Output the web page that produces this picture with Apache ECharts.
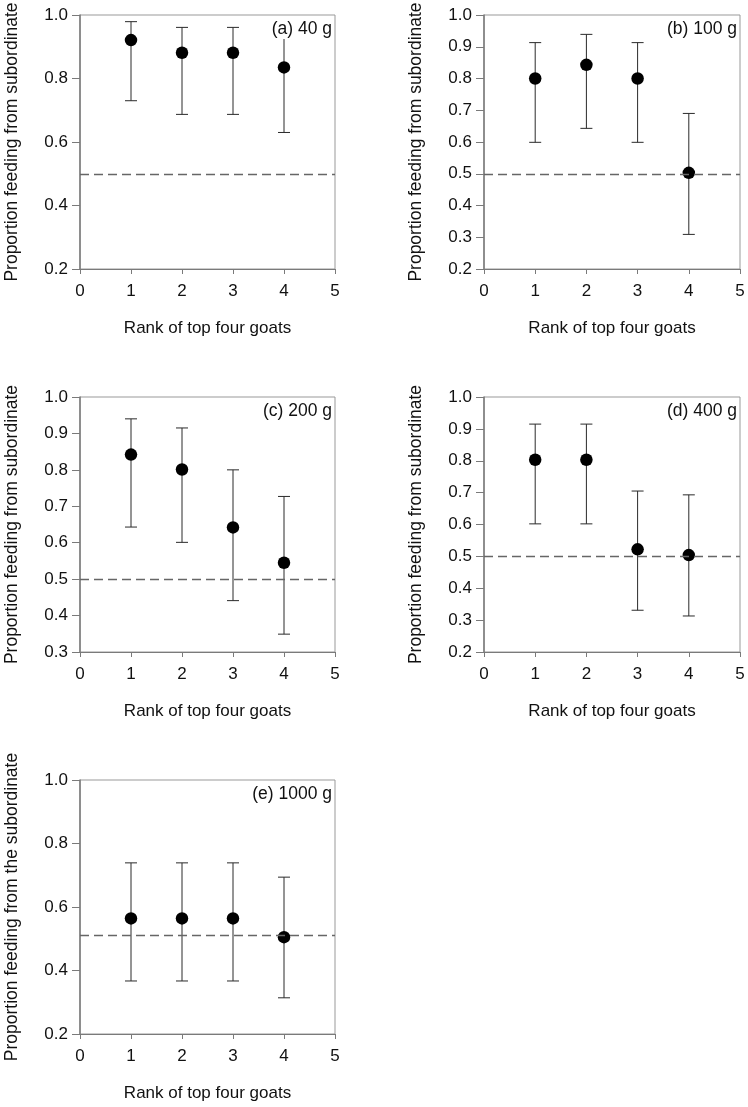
<!DOCTYPE html>
<html><head><meta charset="utf-8">
<script src="https://cdn.jsdelivr.net/npm/echarts@6/dist/echarts.min.js"></script>
<style>html,body{margin:0;padding:0;background:#fff}#c{width:748px;height:1107px}</style>
</head><body><div id="c"></div>
<script>
// ---- data ----
const ranks = [1, 2, 3, 4];
const panelLabels = ['(a) 40 g', '(b) 100 g', '(c) 200 g', '(d) 400 g', '(e) 1000 g'];
const yTitles = ['Proportion feeding from subordinate', 'Proportion feeding from subordinate',
  'Proportion feeding from subordinate', 'Proportion feeding from subordinate',
  'Proportion feeding from the subordinate'];
const xTitle = 'Rank of top four goats';

const propA = [0.921, 0.881, 0.881, 0.835];
const upperA = [0.979, 0.961, 0.961, 0.940];
const lowerA = [0.730, 0.687, 0.687, 0.630];

const propB = [0.800, 0.843, 0.800, 0.503];
const upperB = [0.913, 0.939, 0.913, 0.690];
const lowerB = [0.599, 0.643, 0.599, 0.309];

const propC = [0.842, 0.801, 0.642, 0.545];
const upperC = [0.940, 0.915, 0.800, 0.727];
const lowerC = [0.643, 0.601, 0.441, 0.349];

const propD = [0.803, 0.803, 0.522, 0.504];
const upperD = [0.915, 0.915, 0.705, 0.693];
const lowerD = [0.602, 0.602, 0.331, 0.313];

const propE = [0.564, 0.564, 0.564, 0.505];
const upperE = [0.739, 0.739, 0.739, 0.694];
const lowerE = [0.367, 0.367, 0.367, 0.314];

const refLines = [0.503, 0.5, 0.5, 0.5, 0.507];
const yMins = [0.2, 0.2, 0.3, 0.2, 0.2];
const yMaxs = [1.0, 1.0, 1.0, 1.0, 1.0];
const yIntervals = [0.2, 0.1, 0.1, 0.1, 0.2];
const xTicks = [0, 1, 2, 3, 4, 5];

// ---- layout ----
const grids = [
  {left: 80, top: 15, width: 255, height: 254},
  {left: 484, top: 15, width: 256, height: 254},
  {left: 80, top: 397, width: 255, height: 255},
  {left: 484, top: 397, width: 256, height: 255},
  {left: 80, top: 780, width: 255, height: 254}
];
const props = [propA, propB, propC, propD, propE];
const uppers = [upperA, upperB, upperC, upperD, upperE];
const lowers = [lowerA, lowerB, lowerC, lowerD, lowerE];

const FONT = 'Liberation Sans, Arial, sans-serif';
const axisCol = '#7a7a7a';
const option = {animation: false, backgroundColor: '#fff',
  grid: [], xAxis: [], yAxis: [], series: [], title: []};

grids.forEach((g, i) => {
  option.grid.push(Object.assign({show: true, borderColor: '#999', borderWidth: 1, backgroundColor: 'transparent'}, g));
  option.xAxis.push({
    type: 'value', gridIndex: i, min: xTicks[0], max: xTicks[xTicks.length - 1], interval: 1,
    name: xTitle, nameLocation: 'middle', nameGap: 51,
    nameTextStyle: {fontFamily: FONT, fontSize: 17, color: '#111'},
    axisLine: {show: true, onZero: false, lineStyle: {color: axisCol, width: 1}},
    axisTick: {show: true, length: 5, lineStyle: {color: axisCol}},
    axisLabel: {margin: 14, fontFamily: FONT, fontSize: 17, color: '#111'},
    splitLine: {show: false}
  });
  option.yAxis.push({
    type: 'value', gridIndex: i, min: yMins[i], max: yMaxs[i], interval: yIntervals[i],
    name: yTitles[i], nameLocation: 'middle', nameGap: 59, nameRotate: 90,
    nameTextStyle: {fontFamily: FONT, fontSize: 17.5, color: '#111'},
    axisLine: {show: true, onZero: false, lineStyle: {color: axisCol, width: 1.5}},
    axisTick: {show: true, length: 8, lineStyle: {color: axisCol}},
    axisLabel: {margin: 12, fontFamily: FONT, fontSize: 17, color: '#111',
      formatter: v => v.toFixed(1)},
    splitLine: {show: false}
  });
  const errData = ranks.map((r, k) => [r, lowers[i][k], uppers[i][k]]);
  option.series.push({
    type: 'custom', xAxisIndex: i, yAxisIndex: i, z: 3,
    data: errData,
    renderItem: (params, api) => {
      const x = api.value(0);
      const lo = api.coord([x, api.value(1)]);
      const hi = api.coord([x, api.value(2)]);
      const hw = 6;
      const st = {stroke: '#2a2a2a', lineWidth: 1, fill: null};
      return {type: 'group', children: [
        {type: 'line', shape: {x1: lo[0], y1: lo[1], x2: hi[0], y2: hi[1]}, style: st},
        {type: 'line', shape: {x1: hi[0] - hw, y1: hi[1], x2: hi[0] + hw, y2: hi[1]}, style: st},
        {type: 'line', shape: {x1: lo[0] - hw, y1: lo[1], x2: lo[0] + hw, y2: lo[1]}, style: st}
      ]};
    },
    encode: {x: 0, y: [1, 2]}
  });
  option.series.push({
    type: 'scatter', xAxisIndex: i, yAxisIndex: i, z: 4,
    symbol: 'circle', symbolSize: 12.5,
    itemStyle: {color: '#000', opacity: 1},
    data: ranks.map((r, k) => [r, props[i][k]]),
    markLine: {
      silent: true, symbol: 'none', label: {show: false},
      lineStyle: {color: '#666', type: [9, 5], width: 1.3},
      data: [{yAxis: refLines[i]}]
    }
  });
  option.title.push({
    text: panelLabels[i],
    right: 748 - (g.left + g.width) + 3, top: g.top + 4,
    padding: [1, 0, 1, 2],
    backgroundColor: '#fff',
    textStyle: {fontFamily: FONT, fontSize: 17.5, fontWeight: 'normal', color: '#111'}
  });
});

const chart = echarts.init(document.getElementById('c'), null, {renderer: 'canvas'});
chart.setOption(option);
</script></body></html>
